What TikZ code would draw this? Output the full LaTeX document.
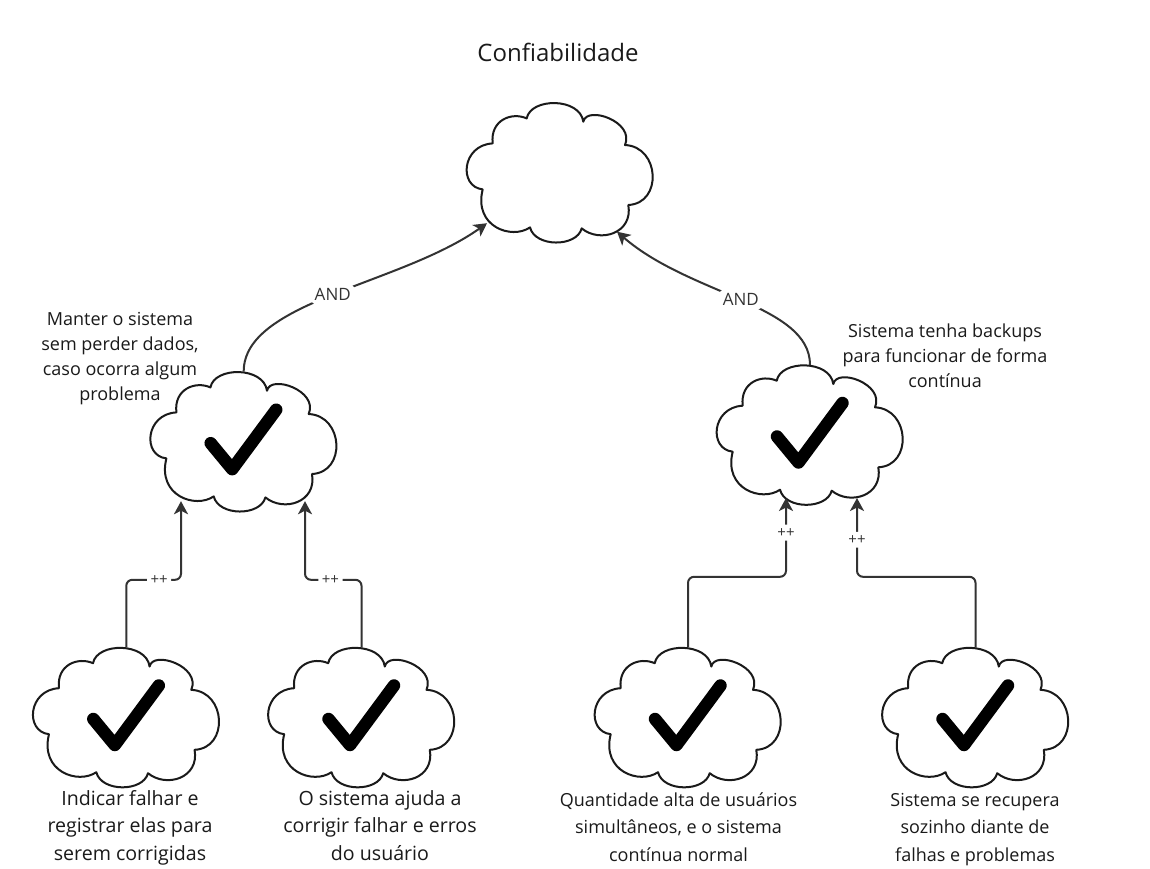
\documentclass[tikz,border=0pt]{standalone}
\usepackage{fontspec}
\setmainfont{Open Sans}
\usetikzlibrary{calc,arrows.meta}
\definecolor{ink}{HTML}{1A1A1A}
\definecolor{linec}{HTML}{333333}
\newcommand\mlines[1]{\begin{tabular}[t]{@{}c@{}}#1\end{tabular}}
\tikzset{
  cloudline/.style={draw=ink, line width=2pt, fill=white, line join=round},
  cloudbox/.style={inner sep=0pt, minimum width=186pt, minimum height=140pt},
  checkline/.style={draw=black, line width=12.5pt, line cap=round, line join=round},
  conn/.style={draw=linec, line width=2pt, rounded corners=6pt, -{Stealth[length=13pt,width=14pt,inset=3.5pt]}},
  andlbl/.style={fill=white, text=linec, inner sep=4pt, font=\fontsize{17}{20}\selectfont},
  pluslbl/.style={fill=white, text=linec, inner sep=3.5pt, font=\fontsize{15}{18}\selectfont},
  txtbig/.style={anchor=base, text=ink, inner sep=0pt, font=\fontsize{19.6}{27.5}\selectfont},
  txtsm/.style={anchor=base, text=ink, inner sep=0pt, font=\fontsize{18}{27.5}\selectfont},
  txtmid/.style={anchor=base, text=ink, inner sep=0pt, font=\fontsize{18}{25}\selectfont},
  cloudpic/.pic={
    \path[cloudline] (-33.3,-54.3) .. controls (-29.3,-75.3) and (20,-75.3) .. (23.3,-51)
      .. controls (26.7,-67.7) and (75,-51) .. (65,-27.7)
      .. controls (100,-26) and (102.7,30.7) .. (68.3,32.3)
      .. controls (73.3,60.7) and (40,70.7) .. (21.7,55.7)
      .. controls (16.7,74.7) and (-25,74.7) .. (-30,54.7)
      .. controls (-48.3,67.3) and (-86.7,54) .. (-77.3,16.7)
      .. controls (-101.7,14) and (-98.3,-27.7) .. (-67.3,-29.3)
      .. controls (-70,-52.7) and (-48.3,-61) .. (-33.3,-54.3) -- cycle;
    \node[cloudbox] (-b) at (0,0) {};
  },
  checkpic/.pic={
    \draw[checkline] (-33,1.5) -- (-11.5,27.5) -- (32.5,-32);
  }
}
\begin{document}
\begin{tikzpicture}[x=1pt,y=-1pt]
\fill[white] (0,0) rectangle (1150,869);
\useasboundingbox (0,0) rectangle (1150,869);

% title
\node[anchor=base, text=ink, inner sep=0pt, font=\fontsize{24}{28}\selectfont] (title) at (558,61.7) {Confiabilidade};

% clouds
\pic (top) at (560,172.7) {cloudpic};
\pic (ml) at (243.7,441.7) {cloudpic};
\pic (mr) at (810,435) {cloudpic};
\pic (b1) at (126.3,717.5) {cloudpic};
\pic (b2) at (361.5,717.5) {cloudpic};
\pic (b3) at (688,717.5) {cloudpic};
\pic (b4) at (975.5,717.5) {cloudpic};

% checks
\pic at (ml-b.center) {checkpic};
\pic at (mr-b.center) {checkpic};
\pic at (b1-b.center) {checkpic};
\pic at (b2-b.center) {checkpic};
\pic at (b3-b.center) {checkpic};
\pic at (b4-b.center) {checkpic};

% connection points
\coordinate (topL) at ($(top-b.center)+(-73,50.5)$);
\coordinate (topR) at ($(top-b.center)+(57,59)$);
\coordinate (mlL) at ($(ml-b.center)+(-62.7,59.5)$);
\coordinate (mlR) at ($(ml-b.center)+(61.3,59.5)$);
\coordinate (mrL) at ($(mr-b.center)+(-24,63)$);
\coordinate (mrR) at ($(mr-b.center)+(47,63)$);
\coordinate (e1) at ($(b1-b.north)+(0,-67.5)$);
\coordinate (e2) at ($(b2-b.north)+(0,-67.5)$);
\coordinate (e3) at ($(b3-b.north)+(0,-70.5)$);
\coordinate (e4) at ($(b4-b.north)+(0,-70.5)$);

% AND connectors
\draw[conn] (ml-b.north) .. controls ($(ml-b.north)+(0,-70)$) and (400,285) .. (topL)
  node[andlbl, pos=0.5] {AND};
\draw[conn] (mr-b.north) .. controls ($(mr-b.north)+(0,-60)$) and (690,295) .. (topR)
  node[andlbl, pos=0.5] {AND};

% ++ connectors
\draw[conn] (b1-b.north) -- (e1) -- node[pluslbl, pos=0.6] {++} (mlL |- e1) -- (mlL);
\draw[conn] (b2-b.north) -- (e2) -- node[pluslbl, pos=0.55] {++} (mlR |- e2) -- (mlR);
\draw[conn] (b3-b.north) -- (e3) -- (mrL |- e3) -- node[pluslbl, pos=0.56] {++} (mrL);
\draw[conn] (b4-b.north) -- (e4) -- (mrR |- e4) -- node[pluslbl, pos=0.47] {++} (mrR);

% texts
\node[txtmid] (tml) at (120,325) {\mlines{Manter o sistema\\sem perder dados,\\caso ocorra algum\\problema}};
\node[txtmid] (tmr) at (945,337.5) {\mlines{Sistema tenha backups\\para funcionar de forma\\contínua}};
\node[txtbig] (tb1) at (130,805) {\mlines{Indicar falhar e\\registrar elas para\\serem corrigidas}};
\node[txtbig] (tb2) at (380,805) {\mlines{O sistema ajuda a\\corrigir falhar e erros\\do usuário}};
\node[txtsm] (tb3) at (678.5,806) {\mlines{Quantidade alta de usuários\\simultâneos, e o sistema\\contínua normal}};
\node[txtsm] (tb4) at (975,806) {\mlines{Sistema se recupera\\sozinho diante de\\falhas e problemas}};
\end{tikzpicture}
\end{document}
